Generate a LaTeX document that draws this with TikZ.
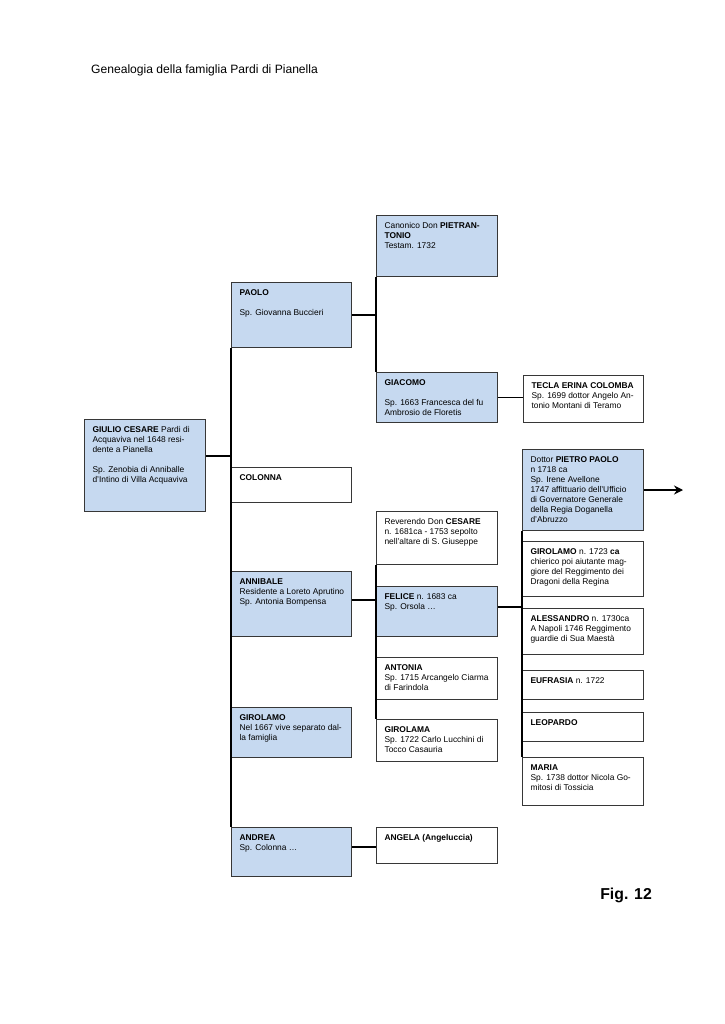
\documentclass[tikz,border=0pt]{standalone}
\usepackage{fontspec}
\setmainfont{Liberation Sans}
\usetikzlibrary{arrows.meta}
\definecolor{boxblue}{RGB}{198,217,240}
\definecolor{boxline}{RGB}{55,55,55}
\newcommand\famcell[7]{%
  \node[fambox, fill=#6] (#1) at (#2,#3)
    {\parbox[c][#5pt][t]{#4pt}{\raggedright\leftskip=8pt\relax\rule{0pt}{12.5pt}#7}};}
\begin{document}
\begin{tikzpicture}[x=1pt,y=-1pt,
  fambox/.style={draw=boxline, line width=1.1pt, inner sep=0pt, anchor=north west},
  link/.style={line width=1.7pt, black},
  font=\fontsize{8.4}{10}\selectfont]
\useasboundingbox (0,0) rectangle (724,1024);
\fill[white] (0,0) rectangle (724,1024);

\node[anchor=base west, inner sep=0pt, font=\fontsize{12.1}{14}\selectfont] (title) at (91,74) {Genealogia della famiglia Pardi di Pianella};
\node[anchor=base east, inner sep=0pt, font=\fontsize{15.8}{18}\selectfont\bfseries] (fig) at (652,899) {Fig. 12};

% column 1
\famcell{giulio}{84}{419}{121}{92}{boxblue}{\textbf{GIULIO CESARE} Pardi di\\Acquaviva nel 1648 resi-\\dente a Pianella\\[10pt]Sp. Zenobia di Anniballe\\d’Intino di Villa Acquaviva}

% column 2
\famcell{paolo}{231}{282}{120}{65}{boxblue}{\textbf{PAOLO}\\[10pt]Sp. Giovanna Buccieri}
\famcell{colonna}{231}{467}{120}{35}{white}{\textbf{COLONNA}}
\famcell{annibale}{231}{571}{120}{65}{boxblue}{\textbf{ANNIBALE}\\Residente a Loreto Aprutino\\Sp. Antonia Bompensa}
\famcell{girolamo}{231}{707}{120}{50}{boxblue}{\textbf{GIROLAMO}\\Nel 1667 vive separato dal-\\la famiglia}
\famcell{andrea}{231}{827}{120}{49}{boxblue}{\textbf{ANDREA}\\Sp. Colonna …}

% column 3
\famcell{pietrantonio}{376}{215}{121}{61}{boxblue}{Canonico Don \textbf{PIETRAN-}\\\textbf{TONIO}\\Testam. 1732}
\famcell{giacomo}{376}{372}{121}{50}{boxblue}{\textbf{GIACOMO}\\[10pt]Sp. 1663 Francesca del fu\\Ambrosio de Floretis}
\famcell{cesare}{376}{511}{121}{53}{white}{Reverendo Don \textbf{CESARE}\\n. 1681ca - 1753 sepolto\\nell’altare di S. Giuseppe}
\famcell{felice}{376}{586}{121}{50}{boxblue}{\textbf{FELICE} n. 1683 ca\\Sp. Orsola …}
\famcell{antonia}{376}{657}{121}{42}{white}{\textbf{ANTONIA}\\Sp. 1715 Arcangelo Ciarma\\di Farindola}
\famcell{girolama}{376}{719}{121}{42}{white}{\textbf{GIROLAMA}\\Sp. 1722 Carlo Lucchini di\\Tocco Casauria}
\famcell{angela}{376}{827}{121}{36}{white}{\textbf{ANGELA (Angeluccia)}}

% column 4
\famcell{tecla}{523}{375}{120}{47}{white}{\textbf{TECLA ERINA COLOMBA}\\Sp. 1699 dottor Angelo An-\\tonio Montani di Teramo}
\famcell{pietropaolo}{522}{449}{121}{81}{boxblue}{Dottor \textbf{PIETRO PAOLO}\\n 1718 ca\\Sp. Irene Avellone\\1747 affittuario dell’Ufficio\\di Governatore Generale\\della Regia Doganella\\d’Abruzzo}
\famcell{girolamob}{522}{541}{121}{55}{white}{\textbf{GIROLAMO} n. 1723 \textbf{ca}\\chierico poi aiutante mag-\\giore del Reggimento dei\\Dragoni della Regina}
\famcell{alessandro}{522}{608}{121}{46}{white}{\textbf{ALESSANDRO} n. 1730ca\\A Napoli 1746 Reggimento\\guardie di Sua Maestà}
\famcell{eufrasia}{522}{670}{121}{29}{white}{\textbf{EUFRASIA} n. 1722}
\famcell{leopardo}{522}{712}{121}{29}{white}{\textbf{LEOPARDO}}
\famcell{maria}{522}{757}{121}{48}{white}{\textbf{MARIA}\\Sp. 1738 dottor Nicola Go-\\mitosi di Tossicia}

% connectors
\coordinate (arrowend) at (683,490);
\coordinate (j1) at (231,456);
\coordinate (j2) at (376,600);
\coordinate (j3) at (522,607);
\coordinate (j4) at (376,847);
\draw[link] (paolo.south west) -- (andrea.north west);
\draw[link] (giulio.east |- j1) -- (j1);
\draw[link] (pietrantonio.south west) -- (giacomo.north west);
\draw[link] (paolo.east) -- (paolo.east -| giacomo.west);
\draw[link] (giacomo.east) -- (giacomo.east -| tecla.west);
\draw[link] (cesare.south west) -- (girolama.north west);
\draw[link] (annibale.east |- j2) -- (j2);
\draw[link] (felice.east |- j3) -- (j3);
\draw[link] (pietropaolo.south west) -- (maria.north west);
\draw[link] (andrea.east |- j4) -- (j4);
\draw[link, -{Stealth[length=9pt,width=9pt,inset=3pt]}] (pietropaolo.east) -- (arrowend);
\end{tikzpicture}
\end{document}
